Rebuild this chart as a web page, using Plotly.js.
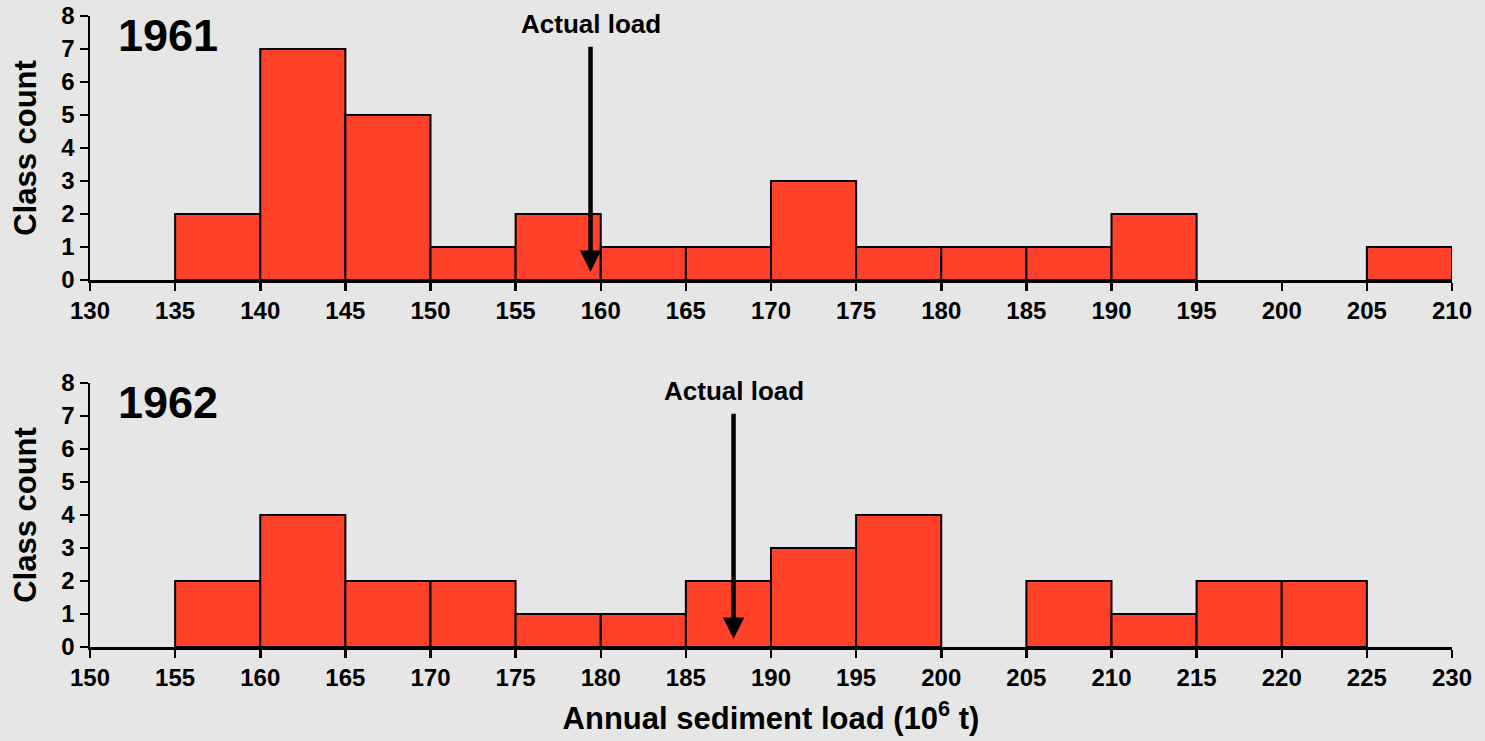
<!DOCTYPE html>
<html><head><meta charset="utf-8">
<script src="https://cdn.plot.ly/plotly-3.0.1.min.js"></script>
<style>html,body{margin:0;padding:0;background:#e6e6e6;}#chart{width:1485px;height:741px;}</style>
</head><body><div id="chart"></div>
<script>
// 1961 histogram (bin starts, width 5)
const bins1961 = [135,140,145,150,155,160,165,170,175,180,185,190,195,200,205];
const counts1961 = [2,7,5,1,2,1,1,3,1,1,1,2,0,0,1];
const actual1961 = 159.4;
// 1962 histogram
const bins1962 = [155,160,165,170,175,180,185,190,195,200,205,210,215,220];
const counts1962 = [2,4,2,2,1,1,2,3,4,0,2,1,2,2];
const actual1962 = 187.8;
const binWidth = 5;
const xTicks1961 = [130,135,140,145,150,155,160,165,170,175,180,185,190,195,200,205,210];
const xTicks1962 = [150,155,160,165,170,175,180,185,190,195,200,205,210,215,220,225,230];
const yTicks = [0,1,2,3,4,5,6,7,8];

const FONT = 'Liberation Sans, Arial, sans-serif';
const barColor = '#fe4128';

function barTrace(bins, counts, xa, ya){
  return {type:'bar', x:bins, y:counts, offset:0, width:bins.map(()=>binWidth),
    xaxis:xa, yaxis:ya,
    marker:{color:barColor, line:{color:'#000', width:counts.map(c => c > 0 ? 2 : 0)}},
    hoverinfo:'x+y', showlegend:false};
}

const data = [barTrace(bins1961, counts1961, 'x', 'y'), barTrace(bins1962, counts1962, 'x2', 'y2')];

function xaxis(ticks, dom){
  return {range:[ticks[0], ticks[ticks.length-1]], domain:[90/1485, 1452/1485], anchor: dom,
    tickvals:ticks, ticktext:ticks.map(String), showgrid:false, zeroline:false,
    showline:true, linecolor:'#000', linewidth:2.5, ticks:'outside', ticklen:8, tickwidth:2.5, tickcolor:'#000',
    tickfont:{family:FONT, size:24, color:'#000', weight:'bold'}, fixedrange:true};
}
function yaxis(dom, anchor){
  return {range:[0,8], domain:dom, anchor:anchor, tickvals:yTicks, ticktext:yTicks.map(String),
    showgrid:false, zeroline:false, showline:true, linecolor:'#000', linewidth:2.5,
    ticks:'outside', ticklen:8, tickwidth:2.5, tickcolor:'#000',
    tickfont:{family:FONT, size:24, color:'#000', weight:'bold'},
    title:{text:'Class count', font:{family:FONT, size:31, color:'#000', weight:'bold'}, standoff:16}, fixedrange:true};
}

const xa1 = xaxis(xTicks1961, 'y');
const xa2 = xaxis(xTicks1962, 'y2');
xa2.title = {text:'Annual sediment load (10<sup>6</sup> t)', font:{family:FONT, size:31, color:'#000', weight:'bold'}, standoff:17};

function arrowAnn(xv, xr, yr){
  return {x:xv, y:0.25, ax:xv, ay:7.75, xref:xr, yref:yr, axref:xr, ayref:yr,
    text:'Actual load', font:{family:FONT, size:26, color:'#000', weight:'bold'},
    showarrow:true, arrowhead:2, arrowsize:0.95, arrowwidth:4.5, arrowcolor:'#000', startstandoff:6};
}
function yearAnn(txt, xr, yr){
  return {x:0.019, y:7.4, xref:xr+' domain', yref:yr, text:txt, showarrow:false, xanchor:'left', yanchor:'middle',
    font:{family:FONT, size:45, color:'#000', weight:'bold'}};
}

const layout = {
  width:1485, height:741, margin:{l:0,r:0,t:0,b:0},
  paper_bgcolor:'#e6e6e6', plot_bgcolor:'#e6e6e6',
  xaxis: xa1, yaxis: yaxis([(741-280)/741, (741-16)/741], 'x'),
  xaxis2: xa2, yaxis2: yaxis([(741-647)/741, (741-383)/741], 'x2'),
  bargap:0,
  annotations:[
    arrowAnn(actual1961,'x','y'), yearAnn('1961','x','y'),
    arrowAnn(actual1962,'x2','y2'), yearAnn('1962','x2','y2')
  ],
  showlegend:false
};
Plotly.newPlot('chart', data, layout, {displayModeBar:false, staticPlot:true});
</script></body></html>
